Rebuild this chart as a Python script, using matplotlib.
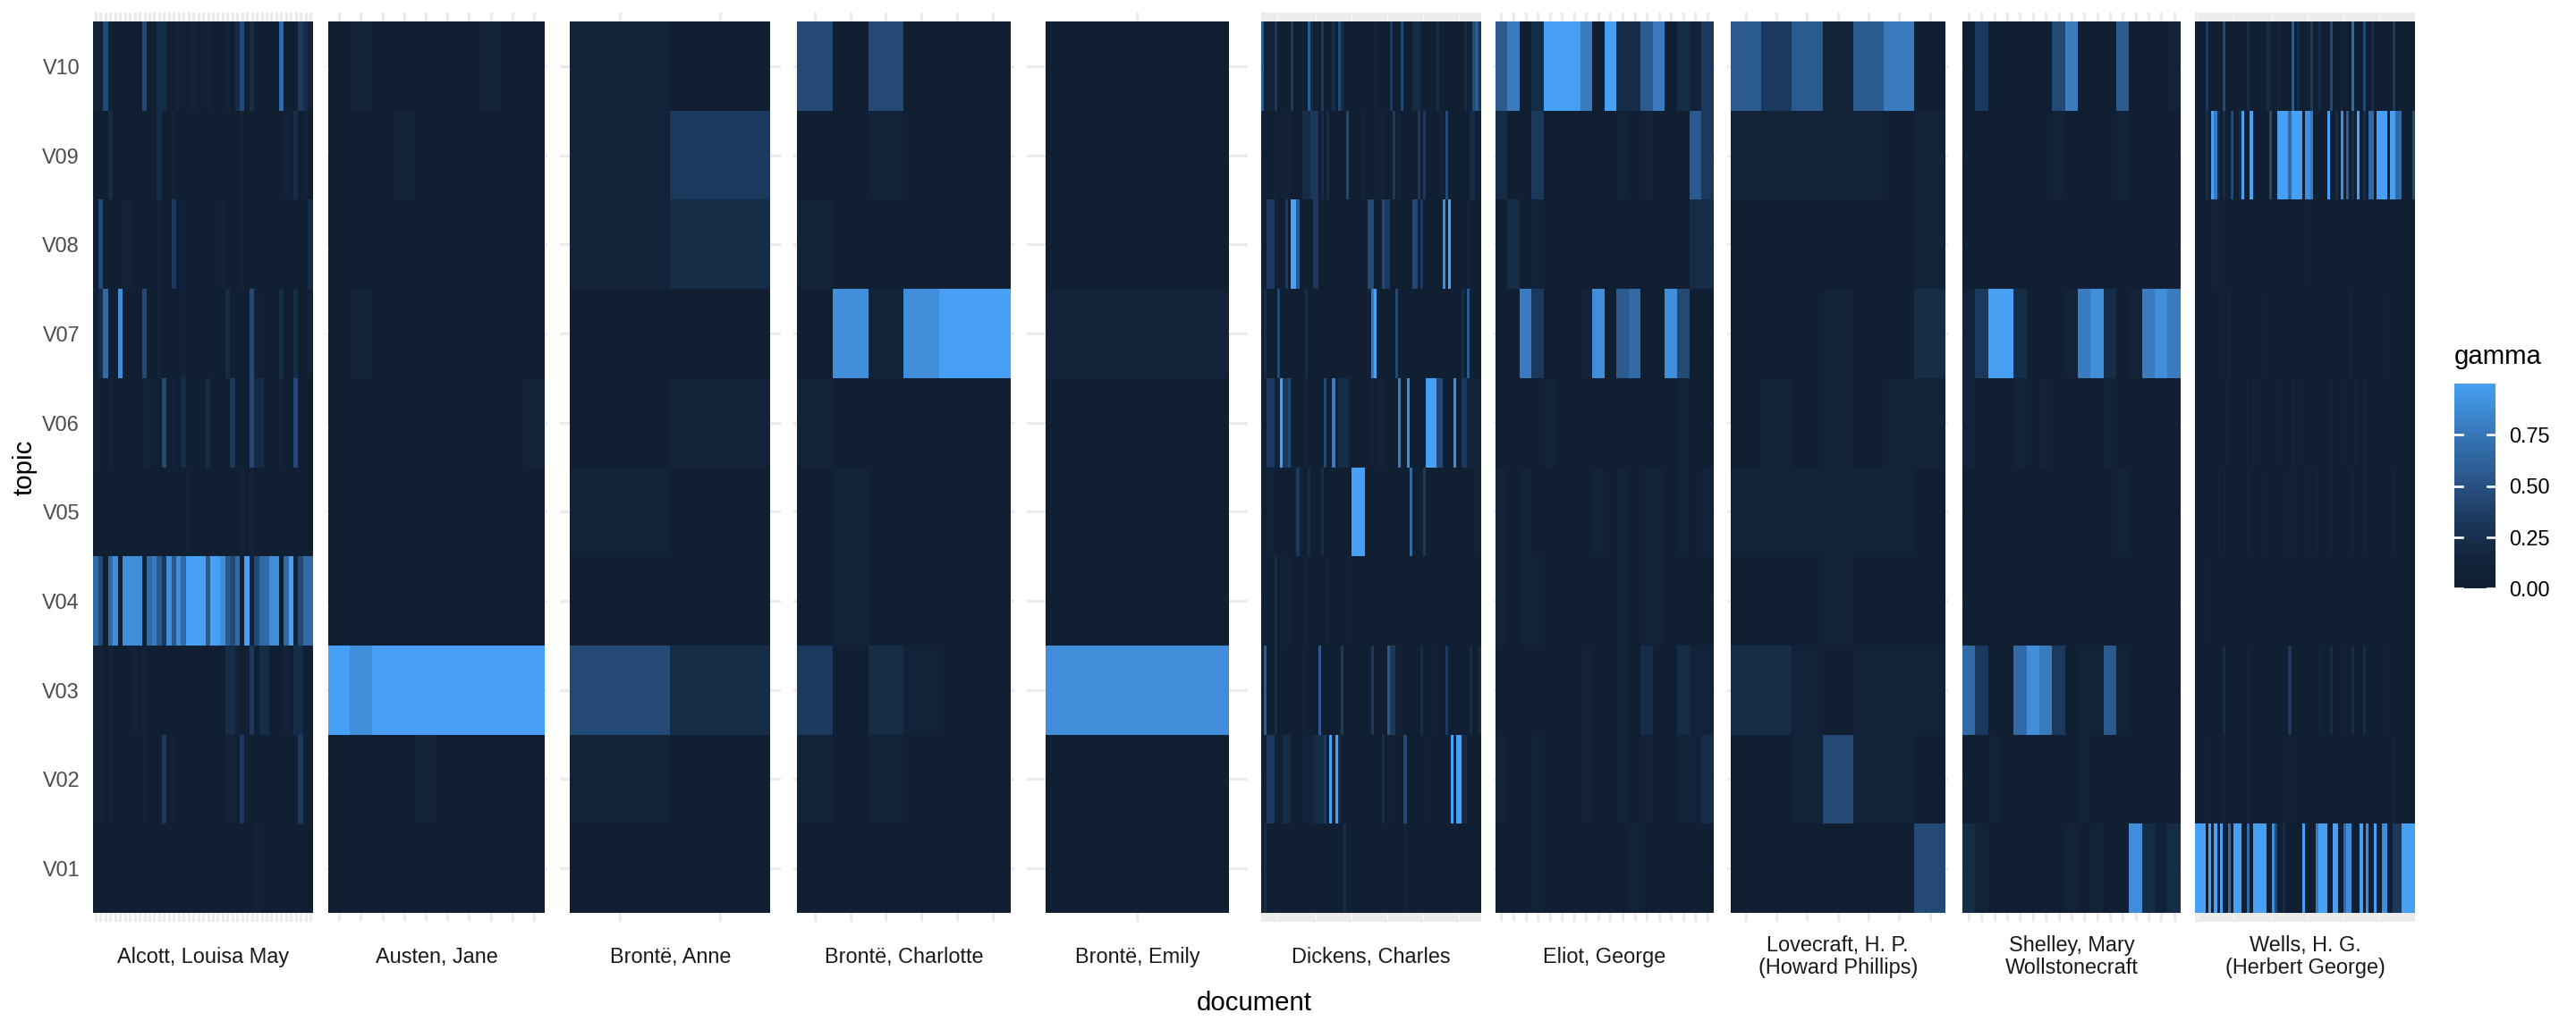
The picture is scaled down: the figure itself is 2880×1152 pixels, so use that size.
import numpy as np
import matplotlib.pyplot as plt
from matplotlib.colors import LinearSegmentedColormap, Normalize

plt.rcParams['font.family'] = ['Liberation Sans', 'DejaVu Sans']

# topics, top row first
topics = ["V10", "V09", "V08", "V07", "V06", "V05", "V04", "V03", "V02", "V01"]

authors = ["Alcott, Louisa May", "Austen, Jane", "Brontë, Anne", "Brontë, Charlotte",
           "Brontë, Emily", "Dickens, Charles", "Eliot, George",
           "Lovecraft, H. P.\n(Howard Phillips)", "Shelley, Mary\nWollstonecraft",
           "Wells, H. G.\n(Herbert George)"]

# gamma per document, one string per topic (V10 first); digit d means gamma = d / 9
alcott = [
    "1141000000" "4002200100" "1001000102" "4020000060" "00321",
    "0002000000" "0002001000" "0000000000" "1000000001" "02010",
    "0400001100" "0001003010" "0000001000" "1000000000" "00002",
    "1260080000" "4001000010" "0000000200" "0041000020" "02001",
    "1001000000" "1100401020" "0002000030" "0042200010" "04000",
    "0000000000" "0000000001" "0000000000" "1010000000" "00000",
    "6406808888" "0675385869" "9995998546" "0904668806" "91466",
    "1101000010" "1000000000" "0000000221" "0030220001" "02200",
    "0101000000" "1000301000" "0000000110" "3000000000" "00300",
    "0000000000" "0000000000" "0000000000" "0001000000" "00000",
]
austen = ["0100000100", "0001000000", "0000000000", "0100000000", "0000000001",
          "0000000000", "0000000000", "9899999999", "0000100000", "0000000000"]
anne = ["10", "13", "12", "00", "01", "10", "00", "42", "10", "00"]
charlotte = ["404000", "001000", "100000", "081899", "100000",
             "010000", "010000", "302100", "101000", "000000"]
emily = ["0", "0", "0", "1", "0", "0", "0", "8", "0", "0"]
dickens = [
    "5011130000" "0300010520" "1030002042" "1000000000" "0100000300" "0400022210" "0000200000" "0000201453",
    "0000010011" "1000022233" "3020200000" "0400000100" "0001100030" "1000000303" "0000010400" "0000002200",
    "0033300003" "0995000003" "3000000000" "0000000004" "4000433000" "0000044030" "0000008090" "0000010000",
    "0200004000" "0000002000" "0000000000" "0000000001" "7900000004" "0000000000" "0000000000" "0002050000",
    "0033301933" "4100001000" "0004007022" "2210000000" "1011100000" "7008000000" "9999440000" "8003311111",
    "0011100000" "0003100200" "0020000000" "0009999900" "0000000000" "0000600003" "0000000000" "0000000011",
    "0000020011" "1000001000" "0000100000" "0100000000" "0000000000" "0000000000" "0000000000" "0000000000",
    "0500020000" "0000010000" "0500000003" "0000000000" "3000005330" "0100000020" "0000100300" "0000002002",
    "0033300022" "2000011112" "2223090920" "0000000000" "0000201000" "0040000001" "0000000009" "0992200000",
    "0200000000" "0000000000" "0000000000" "2000000000" "0000000000" "0010000000" "0000000000" "0000000000",
]
eliot = ["570299970922570213", "200300000010100053", "020100000000000022",
         "007300018056008400", "000010000000000100", "101000001010110101",
         "101100000010110000", "000000010010200211", "100100010010100112",
         "000100000001000000"]
lovecraft = ["5351570", "1111101", "0000001", "0001002", "0101011",
             "1111110", "0001000", "2210111", "0014110", "0000004"]
shelley = ["03000004700050001", "00000001000010000", "00000000000000000",
           "13992000178201787", "10001010000100000", "00000000000010000",
           "00000000000000000", "63006873011510000", "00100000010000000",
           "21000000101008212"]
wells = [
    "0000300000" "4000000002" "0000002100" "1000050200" "0030020004" "0001000600" "0400200000" "0030000000",
    "0000209720" "2004002900" "9000000400" "9999699990" "8870000090" "0208050209" "0206609999" "0996600004",
    "0000001110" "0000000000" "0000000000" "0000000000" "1000000000" "0000000000" "0000000000" "0000000000",
    "0000000010" "0010000000" "0000001000" "0000000000" "0000000000" "0000001000" "0000000010" "0000000000",
    "0000000000" "0100000001" "0100000001" "0000010001" "0000000001" "0001000010" "0100000000" "0000000000",
    "0000000010" "1000000001" "0000001000" "0000100000" "0100100001" "0000000100" "0100000000" "0010000000",
    "0001000000" "0000000000" "0000000000" "0000000000" "0000000000" "0000000000" "0000000000" "0000000000",
    "0000000000" "2000000001" "0000000000" "0000300000" "0000010002" "0001000200" "0200000010" "0000000000",
    "0001000000" "1000000001" "0000000000" "0000100000" "0000000000" "0000000000" "0000000000" "0010000000",
    "9999090909" "0060999006" "0999990084" "0020000009" "0000799900" "9900688000" "9080090088" "0033399999",
]
gamma_rows = [alcott, austen, anne, charlotte, emily, dickens, eliot, lovecraft, shelley, wells]

W, H = 2880, 1152
fig = plt.figure(figsize=(15, 6), dpi=192)

cmap = LinearSegmentedColormap.from_list(
    'gamma', [(0.0, '#101F32'), (0.15, '#13253C'), (0.35, '#1C3B5F'),
              (0.5, '#285283'), (0.75, '#3776B7'), (1.0, '#47A0F3')])
norm = Normalize(0, 1)

grid_col = '#EBEBEB'
left0, step, pw = 103.7, 261.1, 246.7
top, bottom = 14, 1031

for i, (name, rows) in enumerate(zip(authors, gamma_rows)):
    vals = np.array([[int(c) for c in r] for r in rows[::-1]]) / 9.0
    n = vals.shape[1]
    x0 = left0 + i * step
    ax = fig.add_axes([x0 / W, (H - bottom) / H, pw / W, (bottom - top) / H])
    for y in range(1, 11):
        ax.axhline(y, color=grid_col, lw=1.2, zorder=0)
    for x in range(1, n + 1):
        ax.axvline(x, color=grid_col, lw=1.2, zorder=0)
    ax.pcolormesh(np.arange(n + 1) + 0.5, np.arange(11) + 0.5, vals,
                  cmap=cmap, norm=norm, shading='flat', linewidth=0,
                  antialiased=False, zorder=2)
    ax.set_xlim(0.4, n + 0.6)
    ax.set_ylim(0.4, 10.6)
    for s in ax.spines.values():
        s.set_visible(False)
    ax.set_xticks([])
    if i == 0:
        ax.set_yticks(range(1, 11))
        ax.set_yticklabels(topics[::-1])
        ax.tick_params(axis='y', length=0, pad=5.5, labelsize=8.8, labelcolor='#4D4D4D')
    else:
        ax.set_yticks([])
    # facet strip at the bottom
    fig.text((x0 + pw / 2) / W, 1 - 1070 / H, name, ha='center', va='center',
             fontsize=8.8, color='#1A1A1A', linespacing=1.1, multialignment='center')

fig.text(27 / W, 1 - 522.5 / H, 'topic', rotation=90, ha='center', va='center', fontsize=11)
fig.text(1402 / W, 1 - 1122 / H, 'document', ha='center', va='center', fontsize=11)

# colour bar legend
cax = fig.add_axes([2744 / W, (H - 658) / H, 46 / W, 229 / H])
grad = np.linspace(0, 1, 256)[:, None]
cax.imshow(grad, cmap=cmap, norm=norm, aspect='auto', origin='lower', extent=[0, 1, 0, 1])
bar_ticks = [0, 0.25, 0.5, 0.75]
for v in bar_ticks:
    cax.plot([0, 0.2], [v, v], color='white', lw=1)
    cax.plot([0.8, 1], [v, v], color='white', lw=1)
cax.set_xlim(0, 1)
cax.set_ylim(0, 1)
cax.set_xticks([])
cax.yaxis.tick_right()
cax.set_yticks(bar_ticks)
cax.set_yticklabels([f"{v:.2f}" for v in bar_ticks])
cax.tick_params(axis='y', length=0, pad=5.5, labelsize=8.8)
for s in cax.spines.values():
    s.set_visible(False)
fig.text(2744 / W, 1 - 407 / H, 'gamma', ha='left', va='baseline', fontsize=11)

fig.savefig('out.png', dpi=192)
plt.close(fig)
